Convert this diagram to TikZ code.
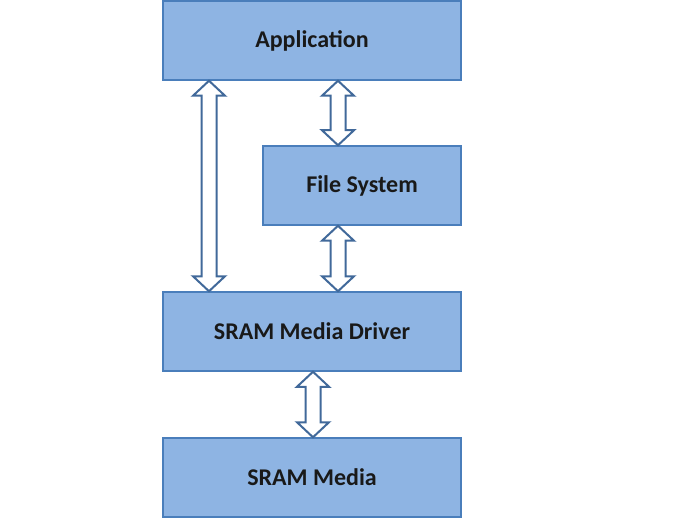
\documentclass[tikz,border=0pt]{standalone}
\usepackage{fontspec}
\setmainfont{Carlito}
\usetikzlibrary{calc}
\definecolor{boxfill}{HTML}{8EB4E3}
\definecolor{boxline}{HTML}{4A7EBB}
\definecolor{arrline}{HTML}{41699A}
\tikzset{
  layer/.style={draw=boxline, line width=1.5pt, fill=boxfill, minimum height=79pt,
    inner sep=0pt, font=\fontsize{24}{28}\selectfont\bfseries, text=black!90},
  arrowst/.style={draw=arrline, line width=2pt, fill=white, line join=miter}
}
\newcommand\dblarr[3]{%
  \coordinate (T) at (#1,0 |- #2.south);
  \coordinate (B) at (#1,0 |- #3.north);
  \draw[arrowst] (T) -- ++(16,15) -- ++(-8.5,0) -- ($(B)+(7.5,-15)$) -- ++(8.5,0) -- (B)
    -- ++(-16,-15) -- ++(8.5,0) -- ($(T)+(-7.5,15)$) -- ++(-8.5,0) -- cycle;}
\begin{document}
\begin{tikzpicture}[x=1pt,y=-1pt]
\useasboundingbox (0,0) rectangle (700,518);
\node[layer, minimum width=298pt] (app) at (312,40.5) {Application};
\node[layer, minimum width=198pt] (fs) at (362,185.5) {File System};
\node[layer, minimum width=298pt] (drv) at (312,331.5) {SRAM Media Driver};
\node[layer, minimum width=298pt] (media) at (312,477.5) {SRAM Media};
\dblarr{209}{app}{drv}
\dblarr{338}{app}{fs}
\dblarr{338}{fs}{drv}
\dblarr{313}{drv}{media}
\end{tikzpicture}
\end{document}
